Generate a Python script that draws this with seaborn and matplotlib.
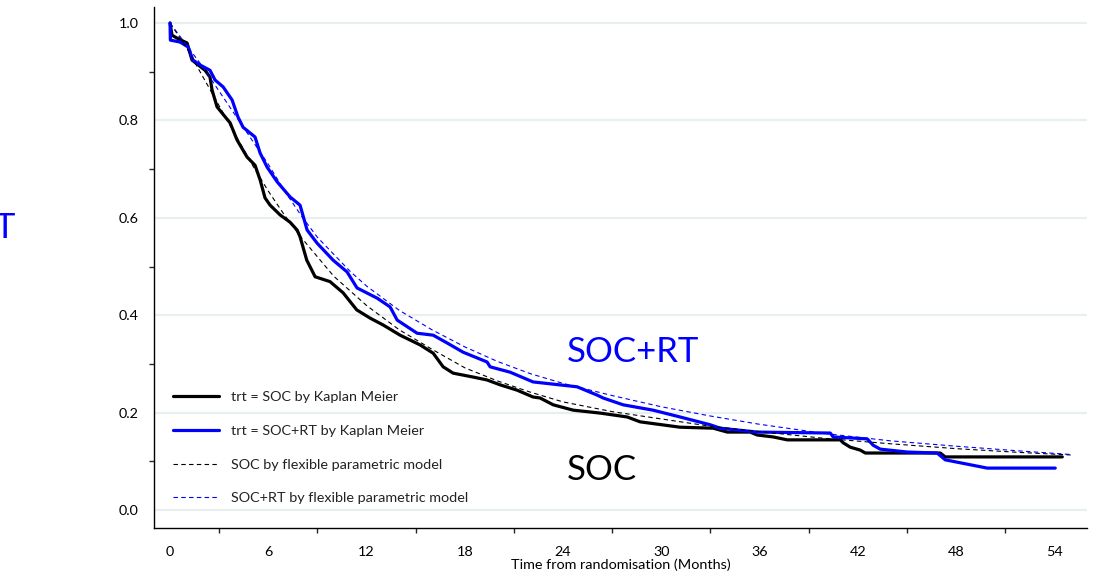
import numpy as np
import pandas as pd
import matplotlib
matplotlib.use("Agg")
import matplotlib.pyplot as plt
from matplotlib.ticker import MultipleLocator
import seaborn as sns

# ---- data ----
soc_km_t = [0, 0.12, 0.43, 1.04, 1.34, 2.14, 2.44, 2.57, 2.87, 3.18, 3.67, 4.09, 4.70, 5.19, 5.50,
            5.80, 6.11, 6.72, 7.33, 7.76, 7.94, 8.35, 8.86, 9.77, 10.57, 11.40, 12.22, 13.01, 14.05,
            15.27, 16.07, 16.68, 17.29, 18.51, 19.36, 20.16, 21.20, 22.17, 22.60, 23.40, 24.62, 26.27,
            27.92, 28.71, 31.15, 33.17, 34.03, 35.43, 35.86, 36.84, 37.69, 40.93, 41.11, 41.54, 42.15,
            42.46, 47.04, 47.34, 54.49]
soc_km_s = [1.0, 0.975, 0.969, 0.959, 0.924, 0.903, 0.889, 0.862, 0.828, 0.815, 0.795, 0.760, 0.725,
            0.708, 0.678, 0.641, 0.626, 0.606, 0.591, 0.575, 0.561, 0.513, 0.479, 0.469, 0.446, 0.411,
            0.394, 0.380, 0.359, 0.339, 0.322, 0.294, 0.281, 0.273, 0.267, 0.257, 0.246, 0.232, 0.230,
            0.216, 0.205, 0.199, 0.191, 0.181, 0.170, 0.168, 0.160, 0.160, 0.154, 0.150, 0.144, 0.144,
            0.138, 0.129, 0.123, 0.117, 0.117, 0.109, 0.109]

rt_km_t = [0, 0.02, 0.61, 1.10, 1.40, 1.83, 2.44, 2.75, 3.24, 3.79, 4.15, 4.46, 5.19, 5.50, 5.93,
           6.54, 7.33, 7.94, 8.37, 8.98, 9.96, 10.81, 11.42, 12.65, 13.44, 13.87, 15.09, 16.07, 16.92,
           17.90, 19.36, 19.55, 20.77, 22.17, 24.86, 26.08, 26.45, 27.67, 29.50, 31.15, 32.99, 33.60,
           35.86, 40.32, 40.50, 42.58, 42.94, 43.37, 45.02, 46.85, 47.34, 49.91, 54.06]
rt_km_s = [1.0, 0.965, 0.961, 0.951, 0.924, 0.914, 0.903, 0.883, 0.869, 0.842, 0.807, 0.786, 0.766,
           0.733, 0.704, 0.674, 0.643, 0.626, 0.575, 0.548, 0.513, 0.489, 0.456, 0.435, 0.417, 0.390,
           0.363, 0.359, 0.343, 0.324, 0.304, 0.294, 0.283, 0.263, 0.253, 0.236, 0.230, 0.216, 0.205,
           0.191, 0.175, 0.168, 0.160, 0.158, 0.150, 0.146, 0.133, 0.125, 0.119, 0.117, 0.103, 0.086,
           0.086]

model_t = [0, 1, 2, 3, 4, 5, 6, 7, 8, 9, 10, 11, 12, 14, 16, 18, 20, 22, 24, 27, 30, 33, 36, 40,
           44, 48, 52, 55]
soc_fpm_s = [1.0, 0.95, 0.89, 0.83, 0.77, 0.71, 0.655, 0.605, 0.56, 0.52, 0.48, 0.45, 0.42, 0.37,
             0.33, 0.292, 0.265, 0.242, 0.222, 0.202, 0.187, 0.172, 0.161, 0.147, 0.136, 0.126,
             0.118, 0.113]
rt_fpm_s = [1.0, 0.955, 0.91, 0.86, 0.81, 0.76, 0.71, 0.655, 0.605, 0.56, 0.525, 0.49, 0.46, 0.41,
            0.37, 0.335, 0.305, 0.28, 0.26, 0.235, 0.212, 0.193, 0.176, 0.157, 0.142, 0.131, 0.121,
            0.114]

x_ticks = [0, 6, 12, 18, 24, 30, 36, 42, 48, 54]
y_ticks = [0.0, 0.2, 0.4, 0.6, 0.8, 1.0]
y_tick_labels = ["0.0", "0.2", "0.4", "0.6", "0.8", "1.0"]

labels = ["trt = SOC by Kaplan Meier", "trt = SOC+RT by Kaplan Meier",
          "SOC by flexible parametric model", "SOC+RT by flexible parametric model"]

BLUE = "#0000ff"
FONT = ["Lato", "DejaVu Sans"]
FS = 10.4

sns.set_style("white")
plt.rcParams["font.family"] = FONT

fig = plt.figure(figsize=(11.01, 5.80), dpi=100)
ax = fig.add_axes([154/1101, 1 - 528/580, (1087 - 154)/1101, (528 - 7)/580])

for yv in y_ticks:
    ax.axhline(yv, color="#e9eff1", lw=1.6, zorder=0)

df_soc = pd.DataFrame({"t": soc_km_t, "s": soc_km_s})
df_rt = pd.DataFrame({"t": rt_km_t, "s": rt_km_s})
df_fs = pd.DataFrame({"t": model_t, "s": soc_fpm_s})
df_fr = pd.DataFrame({"t": model_t, "s": rt_fpm_s})

sns.lineplot(data=df_soc, x="t", y="s", ax=ax, color="black", lw=2.3, sort=False,
             estimator=None, label=labels[0], zorder=3)
sns.lineplot(data=df_rt, x="t", y="s", ax=ax, color=BLUE, lw=2.3, sort=False,
             estimator=None, label=labels[1], zorder=3)
sns.lineplot(data=df_fs, x="t", y="s", ax=ax, color="black", lw=0.8, sort=False,
             estimator=None, label=labels[2], zorder=4, linestyle=(0, (4, 3)))
sns.lineplot(data=df_fr, x="t", y="s", ax=ax, color=BLUE, lw=0.8, sort=False,
             estimator=None, label=labels[3], zorder=4, linestyle=(0, (4, 3)))

ax.set_xlim(-0.98, 56.0)
ax.set_ylim(-0.037, 1.033)
ax.set_xticks(x_ticks)
ax.set_yticks(y_ticks)
ax.set_yticklabels(y_tick_labels)
ax.xaxis.set_minor_locator(MultipleLocator(3))
ax.yaxis.set_minor_locator(MultipleLocator(0.1))
ax.tick_params(axis="both", which="major", direction="out", color="black", width=1,
               labelsize=FS, labelcolor="black")
ax.tick_params(axis="x", which="major", length=7, pad=6)
ax.tick_params(axis="x", which="minor", length=3.5, width=1, direction="out", bottom=True)
ax.tick_params(axis="y", which="major", length=7, pad=4)
ax.tick_params(axis="y", which="minor", length=3.5, width=1, direction="out", left=True)

for side in ["top", "right"]:
    ax.spines[side].set_visible(False)
for side in ["left", "bottom"]:
    ax.spines[side].set_color("black")
    ax.spines[side].set_linewidth(1)

ax.set_ylabel("")
ax.set_xlabel("Time from randomisation (Months)", fontsize=FS, color="black")
ax.xaxis.set_label_coords(0.5, -0.0575)

leg = ax.legend(loc="upper left", bbox_to_anchor=(0.0205, 0.263), frameon=False,
                fontsize=FS, handlelength=3.2, handletextpad=0.8, labelspacing=1.5,
                borderpad=0, borderaxespad=0)
for t in leg.get_texts():
    t.set_color("#222222")

ax.text(24.25, 0.324, "SOC+RT", color=BLUE, fontsize=25, ha="left", va="center")
ax.text(24.25, 0.082, "SOC", color="black", fontsize=25, ha="left", va="center")

fig.text(16/1101, 1 - 228/580, "SOC+RT", color=BLUE, fontsize=25, ha="right", va="center")

fig.savefig("out.png", dpi=100)
